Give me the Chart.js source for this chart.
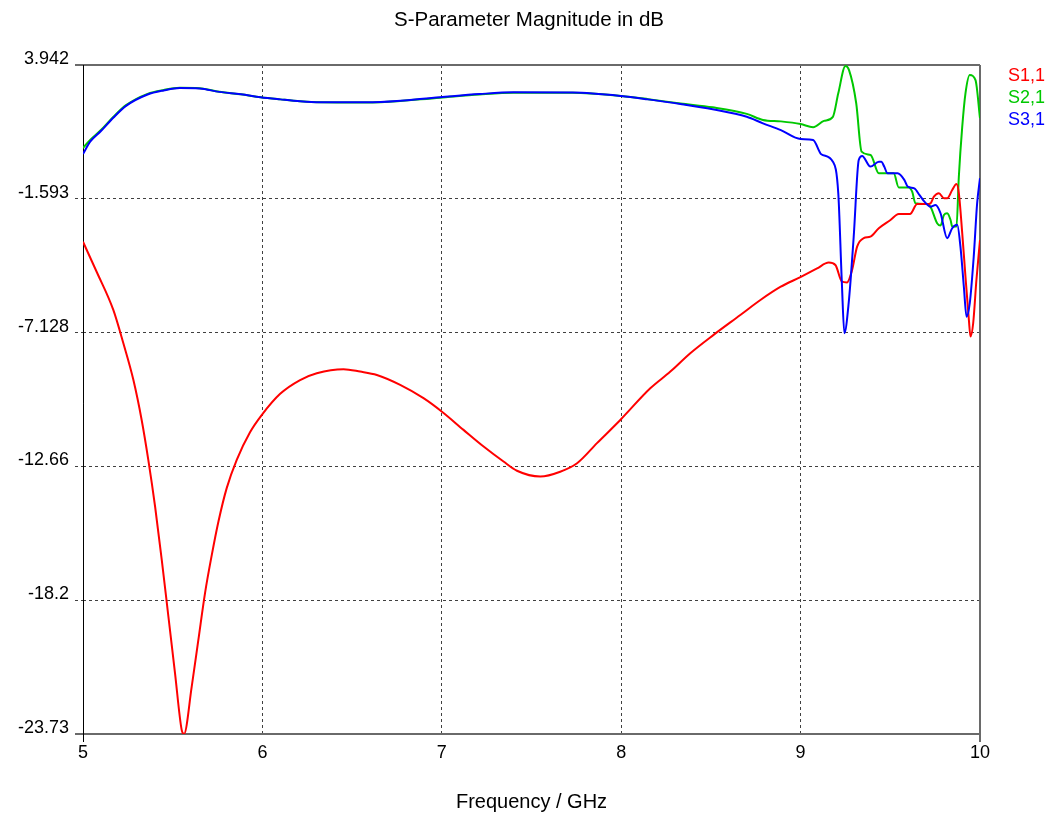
<!DOCTYPE html>
<html>
<head>
<meta charset="utf-8">
<title>S-Parameter Magnitude in dB</title>
<script src="https://cdn.jsdelivr.net/npm/chart.js@4.4.1/dist/chart.umd.min.js"></script>
<style>
  html, body { margin: 0; padding: 0; background: #fff; }
  canvas { display: block; }
</style>
</head>
<body>
<canvas id="sparam-chart" width="1049" height="818"></canvas>
<script>
// S1,1 (reflection)
const s11Freq = [5.00, 5.076, 5.169, 5.225, 5.281, 5.327, 5.364, 5.402, 5.439, 5.476, 5.513, 5.55, 5.563,
    5.606, 5.643, 5.68, 5.718, 5.755, 5.801, 5.857, 5.931, 5.997, 6.099, 6.21, 6.303, 6.452, 6.545,
    6.638, 6.768, 6.898, 7.001, 7.121, 7.233, 7.344, 7.419, 7.549, 7.66, 7.754, 7.865, 7.995, 8.162,
    8.274, 8.385, 8.515, 8.664, 8.776, 8.887, 8.999, 9.092, 9.157, 9.194, 9.231, 9.259, 9.287, 9.315,
    9.352, 9.389, 9.436, 9.501, 9.547, 9.61, 9.65, 9.706, 9.724, 9.743, 9.771, 9.799, 9.817, 9.845,
    9.869, 9.882, 9.901, 9.919, 9.938, 9.947, 9.962, 9.98, 10.0];
const s11Db = [-3.37, -4.61, -6.19, -7.57, -9.09, -10.74, -12.39, -14.33, -16.53, -18.87, -21.22, -23.56, -23.73,
    -21.77, -19.84, -17.91, -16.32, -14.94, -13.56, -12.39, -11.25, -10.53, -9.66, -9.09, -8.81, -8.64, -8.74,
    -8.88, -9.29, -9.84, -10.40, -11.15, -11.84, -12.46, -12.84, -13.08, -12.88, -12.53, -11.70, -10.74, -9.43,
    -8.74, -7.98, -7.22, -6.40, -5.78, -5.24, -4.83, -4.47, -4.23, -4.33, -5.02, -5.05, -4.54, -3.57,
    -3.22, -3.16, -2.81, -2.47, -2.22, -2.22, -1.81, -1.81, -1.78, -1.50, -1.36, -1.57, -1.57, -1.23,
    -0.98, -1.36, -3.02, -4.81, -6.60, -7.29, -6.74, -4.95, -3.30];

// S2,1 (transmission to port 2)
const s21Freq = [5.00, 5.04, 5.10, 5.17, 5.24, 5.36, 5.45, 5.54, 5.65, 5.76, 5.88, 5.99, 6.10, 6.21,
    6.32, 6.55, 6.66, 6.99, 7.21, 7.40, 7.73, 8.00, 8.15, 8.33, 8.51, 8.70, 8.79, 8.89, 9.00, 9.07,
    9.13, 9.18, 9.21, 9.25, 9.27, 9.31, 9.34, 9.39, 9.436, 9.519, 9.547, 9.603, 9.622, 9.64, 9.706,
    9.724, 9.761, 9.78, 9.799, 9.817, 9.836, 9.845, 9.869, 9.882, 9.901, 9.919, 9.943, 9.975, 10.0];
const s21Db = [0.51, 0.84, 1.25, 1.80, 2.28, 2.75, 2.91, 3.00, 2.98, 2.84, 2.73, 2.61, 2.52, 2.44,
    2.40, 2.39, 2.40, 2.59, 2.72, 2.79, 2.79, 2.66, 2.53, 2.35, 2.19, 1.92, 1.67, 1.61, 1.50, 1.37,
    1.63, 1.80, 2.77, 3.90, 3.73, 2.36, 0.36, 0.22, -0.54, -0.54, -1.12, -1.12, -1.30, -1.78, -1.81,
    -1.92, -2.60, -2.70, -2.26, -2.19, -2.47, -2.74, -2.74, -0.68, 1.39, 2.77, 3.53, 3.32, 1.74];

// S3,1 (transmission to port 3)
const s31Freq = [5.00, 5.04, 5.10, 5.17, 5.24, 5.36, 5.45, 5.54, 5.65, 5.76, 5.88, 5.99, 6.10, 6.21,
    6.32, 6.55, 6.66, 6.99, 7.21, 7.40, 7.73, 8.00, 8.15, 8.33, 8.51, 8.70, 8.79, 8.89, 9.00, 9.07,
    9.115, 9.18, 9.21, 9.23, 9.244, 9.268, 9.296, 9.324, 9.343, 9.389, 9.436, 9.45, 9.466, 9.485,
    9.541, 9.578, 9.597, 9.634, 9.662, 9.69, 9.724, 9.752, 9.78, 9.817, 9.845, 9.873, 9.891, 9.91,
    9.925, 9.943, 9.965, 9.984, 10.0];
const s31Db = [0.26, 0.77, 1.21, 1.77, 2.25, 2.72, 2.89, 2.99, 2.97, 2.83, 2.73, 2.61, 2.52, 2.44,
    2.40, 2.40, 2.41, 2.61, 2.74, 2.81, 2.80, 2.66, 2.52, 2.33, 2.11, 1.80, 1.53, 1.25, 0.88, 0.84,
    0.25, -0.06, -1.36, -5.07, -7.15, -5.90, -3.16, 0.01, 0.18, -0.26, -0.06, -0.06, -0.26, -0.54,
    -0.54, -0.81, -1.09, -1.16, -1.43, -1.71, -1.92, -1.85, -2.19, -3.22, -2.81, -2.67, -3.57, -5.23,
    -6.47, -5.91, -3.99, -1.78, -0.74];

const seriesNames = ["S1,1", "S2,1", "S3,1"];
const seriesColors = ["#ff0000", "#00c800", "#0000ff"];

const xTicks = [5, 6, 7, 8, 9, 10];
const yTicks = [3.942, -1.593, -7.128, -12.66, -18.2, -23.73];
const yTickLabels = ["3.942", "-1.593", "-7.128", "-12.66", "-18.2", "-23.73"];

const fontFamily = "Arial, 'Liberation Sans', sans-serif";

function toPoints(freq, db) {
    return freq.map((f, i) => ({ x: f, y: db[i] }));
}

// solid frame, the black left axis and the header / legend text
const framePlugin = {
    id: "frame",
    beforeDatasetsDraw(chart) {
        const { ctx, chartArea: a } = chart;
        ctx.save();
        ctx.setLineDash([]);
        ctx.strokeStyle = "#6a6a6a";
        ctx.lineWidth = 2;
        ctx.beginPath();
        ctx.moveTo(a.left - 8, a.top);
        ctx.lineTo(a.right, a.top);
        ctx.moveTo(a.left - 8, a.bottom);
        ctx.lineTo(a.right, a.bottom);
        ctx.moveTo(a.right, a.top);
        ctx.lineTo(a.right, a.bottom + 8);
        ctx.stroke();

        ctx.strokeStyle = "#000";
        ctx.lineWidth = 1;
        ctx.beginPath();
        ctx.moveTo(a.left + 0.5, a.top);
        ctx.lineTo(a.left + 0.5, a.bottom + 8);
        ctx.stroke();
        ctx.restore();
    },
    afterDraw(chart) {
        const { ctx } = chart;
        ctx.save();
        ctx.textBaseline = "middle";
        ctx.textAlign = "center";
        ctx.fillStyle = "#000";
        ctx.font = "20.5px " + fontFamily;
        ctx.fillText("S-Parameter Magnitude in dB", 529, 20);

        ctx.textAlign = "left";
        ctx.font = "18px " + fontFamily;
        seriesNames.forEach((name, i) => {
            ctx.fillStyle = seriesColors[i];
            ctx.fillText(name, 1008, 76 + i * 22);
        });
        ctx.restore();
    }
};

new Chart(
    document.getElementById("sparam-chart"),
    {
        type: "line",
        data: {
            datasets: [
                {
                    label: seriesNames[0],
                    data: toPoints(s11Freq, s11Db),
                    borderColor: seriesColors[0],
                    order: 1
                },
                {
                    label: seriesNames[1],
                    data: toPoints(s21Freq, s21Db),
                    borderColor: seriesColors[1],
                    order: 2
                },
                {
                    label: seriesNames[2],
                    data: toPoints(s31Freq, s31Db),
                    borderColor: seriesColors[2],
                    order: 0
                }
            ]
        },
        options: {
            responsive: false,
            animation: false,
            devicePixelRatio: 1,
            layout: { padding: { top: 65, right: 69, left: 0, bottom: 0 } },
            elements: {
                line: { borderWidth: 2, cubicInterpolationMode: "monotone", fill: false },
                point: { radius: 0 }
            },
            plugins: {
                legend: { display: false },
                tooltip: { enabled: false },
                title: { display: false }
            },
            scales: {
                x: {
                    type: "linear",
                    min: 5,
                    max: 10,
                    afterBuildTicks: scale => { scale.ticks = xTicks.map(v => ({ value: v })); },
                    afterFit: scale => { scale.height = 84; },
                    grid: { color: "#404040", drawTicks: false },
                    border: { display: false, dash: [3, 3] },
                    ticks: {
                        color: "#000",
                        font: { family: fontFamily, size: 18 },
                        padding: 8,
                        maxRotation: 0,
                        autoSkip: false
                    },
                    title: {
                        display: true,
                        text: "Frequency / GHz",
                        color: "#000",
                        font: { family: fontFamily, size: 20 },
                        padding: { top: 0, bottom: 4 }
                    }
                },
                y: {
                    type: "linear",
                    min: -23.73,
                    max: 3.942,
                    afterBuildTicks: scale => { scale.ticks = yTicks.slice().reverse().map(v => ({ value: v })); },
                    afterFit: scale => { scale.width = 83; },
                    grid: { color: "#404040", tickLength: 8, tickColor: "#404040", tickBorderDash: [3, 3] },
                    border: { display: false, dash: [3, 3] },
                    ticks: {
                        color: "#000",
                        font: { family: fontFamily, size: 18 },
                        padding: 6,
                        labelOffset: -6,
                        autoSkip: false,
                        callback: value => {
                            const i = yTicks.findIndex(t => Math.abs(t - value) < 1e-6);
                            return i >= 0 ? yTickLabels[i] : "";
                        }
                    }
                }
            }
        },
        plugins: [framePlugin]
    }
);
</script>
</body>
</html>
